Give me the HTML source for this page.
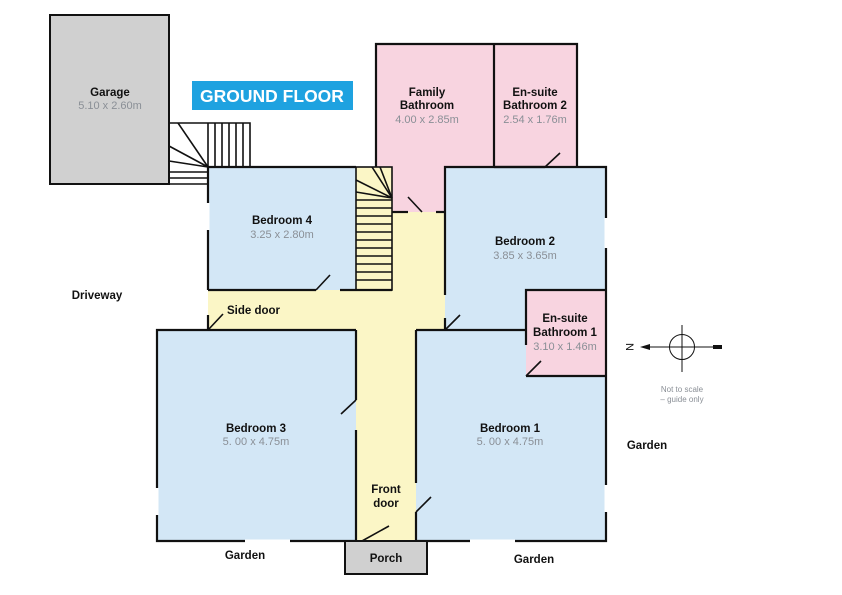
<!DOCTYPE html>
<html><head><meta charset="utf-8"><style>
html,body{margin:0;padding:0;background:#fff;}
svg{display:block;font-family:"Liberation Sans",Arial,sans-serif;}
.t{font-weight:bold;font-size:11.5px;fill:#111;text-anchor:middle;}
.d{font-size:11px;fill:#8a8f96;text-anchor:middle;}
.w{stroke:#111;stroke-width:2.2;fill:none;}
.s{stroke:#111;stroke-width:1.6;fill:none;}
</style></head><body>
<svg width="842" height="595" viewBox="0 0 842 595">
<rect x="50" y="15" width="119" height="169" fill="#d0d0d0" stroke="#111" stroke-width="2"/>
<text class="t" x="110" y="96">Garage</text>
<text class="d" x="110" y="109">5.10 x 2.60m</text>
<rect x="192" y="81" width="161" height="29" fill="#1ea2e0"/>
<text x="272" y="102" fill="#fff" font-weight="bold" font-size="17.5" text-anchor="middle">GROUND FLOOR</text>
<g class="s">
<polyline points="169,123 250,123 250,167"/>
<line x1="208" y1="123" x2="208" y2="167"/><line x1="215" y1="123" x2="215" y2="167"/><line x1="222" y1="123" x2="222" y2="167"/><line x1="229" y1="123" x2="229" y2="167"/><line x1="236" y1="123" x2="236" y2="167"/><line x1="243" y1="123" x2="243" y2="167"/>
<line x1="208" y1="167" x2="178" y2="123"/><line x1="208" y1="167" x2="169" y2="146"/><line x1="208" y1="167" x2="169" y2="161"/>
<line x1="169" y1="172" x2="208" y2="172"/><line x1="169" y1="178" x2="208" y2="178"/><line x1="169" y1="184" x2="208" y2="184"/>
</g>
<rect x="376" y="44" width="118" height="168" fill="#f8d4e0"/>
<rect x="494" y="44" width="83" height="123" fill="#f8d4e0"/>
<rect x="208" y="167" width="148" height="123" fill="#d3e7f6"/>
<rect x="356" y="167" width="36" height="123" fill="#fbf6c6"/>
<rect x="392" y="212" width="53" height="118" fill="#fbf6c6"/>
<rect x="356" y="290" width="60" height="251" fill="#fbf6c6"/>
<rect x="208" y="290" width="237" height="40" fill="#fbf6c6"/>
<rect x="445" y="167" width="161" height="163" fill="#d3e7f6"/>
<rect x="157" y="330" width="199" height="211" fill="#d3e7f6"/>
<rect x="416" y="330" width="190" height="211" fill="#d3e7f6"/>
<rect x="526" y="290" width="80" height="86" fill="#f8d4e0"/>
<g class="s">
<rect x="356" y="167" width="36" height="123"/>
<line x1="356" y1="200" x2="392" y2="200"/><line x1="356" y1="208" x2="392" y2="208"/><line x1="356" y1="216" x2="392" y2="216"/><line x1="356" y1="224" x2="392" y2="224"/><line x1="356" y1="232" x2="392" y2="232"/><line x1="356" y1="240" x2="392" y2="240"/><line x1="356" y1="248" x2="392" y2="248"/><line x1="356" y1="256" x2="392" y2="256"/><line x1="356" y1="264" x2="392" y2="264"/><line x1="356" y1="272" x2="392" y2="272"/><line x1="356" y1="280" x2="392" y2="280"/>
<line x1="392" y1="198" x2="372" y2="167"/><line x1="392" y1="198" x2="356" y2="180"/><line x1="392" y1="198" x2="356" y2="192"/><line x1="392" y1="198" x2="380" y2="167"/>
</g>
<g class="w">
<polyline points="376,167 376,44 577,44 577,167"/>
<line x1="494" y1="44" x2="494" y2="167"/>
<line x1="494" y1="167" x2="545" y2="167"/>
<polyline points="445,212 445,167 606,167 606,541 416,541"/>
<line x1="392" y1="212" x2="408" y2="212"/><line x1="436" y1="212" x2="445" y2="212"/>
<polyline points="356,167 208,167 208,290"/>
<line x1="208" y1="290" x2="316" y2="290"/><line x1="340" y1="290" x2="392" y2="290"/>
<line x1="445" y1="212" x2="445" y2="295"/><line x1="445" y1="318" x2="445" y2="330"/>
<polyline points="606,290 526,290 526,345"/><line x1="526" y1="376" x2="606" y2="376"/>
<line x1="416" y1="330" x2="526" y2="330"/>
<polyline points="208,330 157,330 157,541 356,541"/>
<line x1="208" y1="315" x2="208" y2="330"/>
<line x1="208" y1="330" x2="356" y2="330"/>
<line x1="356" y1="330" x2="356" y2="400"/><line x1="356" y1="430" x2="356" y2="541"/>
<line x1="416" y1="330" x2="416" y2="483"/><line x1="416" y1="512" x2="416" y2="541"/>
</g>
<g stroke="#fff" stroke-width="3">
<line x1="157" y1="488" x2="157" y2="515"/><line x1="606" y1="485" x2="606" y2="512"/>
<line x1="606" y1="218" x2="606" y2="248"/><line x1="245" y1="541" x2="290" y2="541"/><line x1="470" y1="541" x2="515" y2="541"/>
<line x1="208" y1="203" x2="208" y2="230"/>
</g>
<g class="s">
<line x1="316" y1="290" x2="330" y2="275"/>
<line x1="422" y1="212" x2="408" y2="197"/>
<line x1="545" y1="167" x2="560" y2="153"/>
<line x1="445" y1="330" x2="460" y2="315"/>
<line x1="526" y1="376" x2="541" y2="361"/>
<line x1="208" y1="330" x2="223" y2="314"/>
<line x1="341" y1="414" x2="356" y2="400"/>
<line x1="416" y1="512" x2="431" y2="497"/>
<line x1="362" y1="541" x2="389" y2="526"/>
</g>
<rect x="345" y="541" width="82" height="33" fill="#d0d0d0" stroke="#111" stroke-width="2"/>
<text class="t" x="427" y="96">Family</text><text class="t" x="427" y="109">Bathroom</text><text class="d" x="427" y="123">4.00 x 2.85m</text>
<text class="t" x="535" y="96">En-suite</text><text class="t" x="535" y="109">Bathroom 2</text><text class="d" x="535" y="123">2.54 x 1.76m</text>
<text class="t" x="282" y="224">Bedroom 4</text><text class="d" x="282" y="238">3.25 x 2.80m</text>
<text class="t" x="525" y="245">Bedroom 2</text><text class="d" x="525" y="259">3.85 x 3.65m</text>
<text class="t" x="565" y="322">En-suite</text><text class="t" x="565" y="336">Bathroom 1</text><text class="d" x="565" y="350">3.10 x 1.46m</text>
<text class="t" x="227" y="314" style="text-anchor:start">Side door</text>
<text class="t" x="256" y="432">Bedroom 3</text><text class="d" x="256" y="445">5. 00 x 4.75m</text>
<text class="t" x="510" y="432">Bedroom 1</text><text class="d" x="510" y="445">5. 00 x 4.75m</text>
<text class="t" x="386" y="493">Front</text><text class="t" x="386" y="507">door</text>
<text class="t" x="386" y="562">Porch</text>
<text class="t" x="97" y="299">Driveway</text>
<text class="t" x="647" y="449">Garden</text>
<text class="t" x="245" y="559">Garden</text>
<text class="t" x="534" y="563">Garden</text>
<g stroke="#111" stroke-width="1" fill="none">
<line x1="645" y1="347" x2="722" y2="347"/>
<circle cx="682" cy="347" r="12.5"/>
<line x1="682" y1="325" x2="682" y2="372"/>
</g>
<polygon points="640,347 650,344 650,350" fill="#111"/>
<rect x="713" y="345" width="9" height="4" fill="#111"/>
<text x="630" y="347" font-size="11" fill="#111" text-anchor="middle" transform="rotate(90 630 347)" dy="4">N</text>
<text x="682" y="392" font-size="8" fill="#8a8f96" text-anchor="middle">Not to scale</text>
<text x="682" y="402" font-size="8" fill="#8a8f96" text-anchor="middle">– guide only</text>
</svg>
</body></html>
